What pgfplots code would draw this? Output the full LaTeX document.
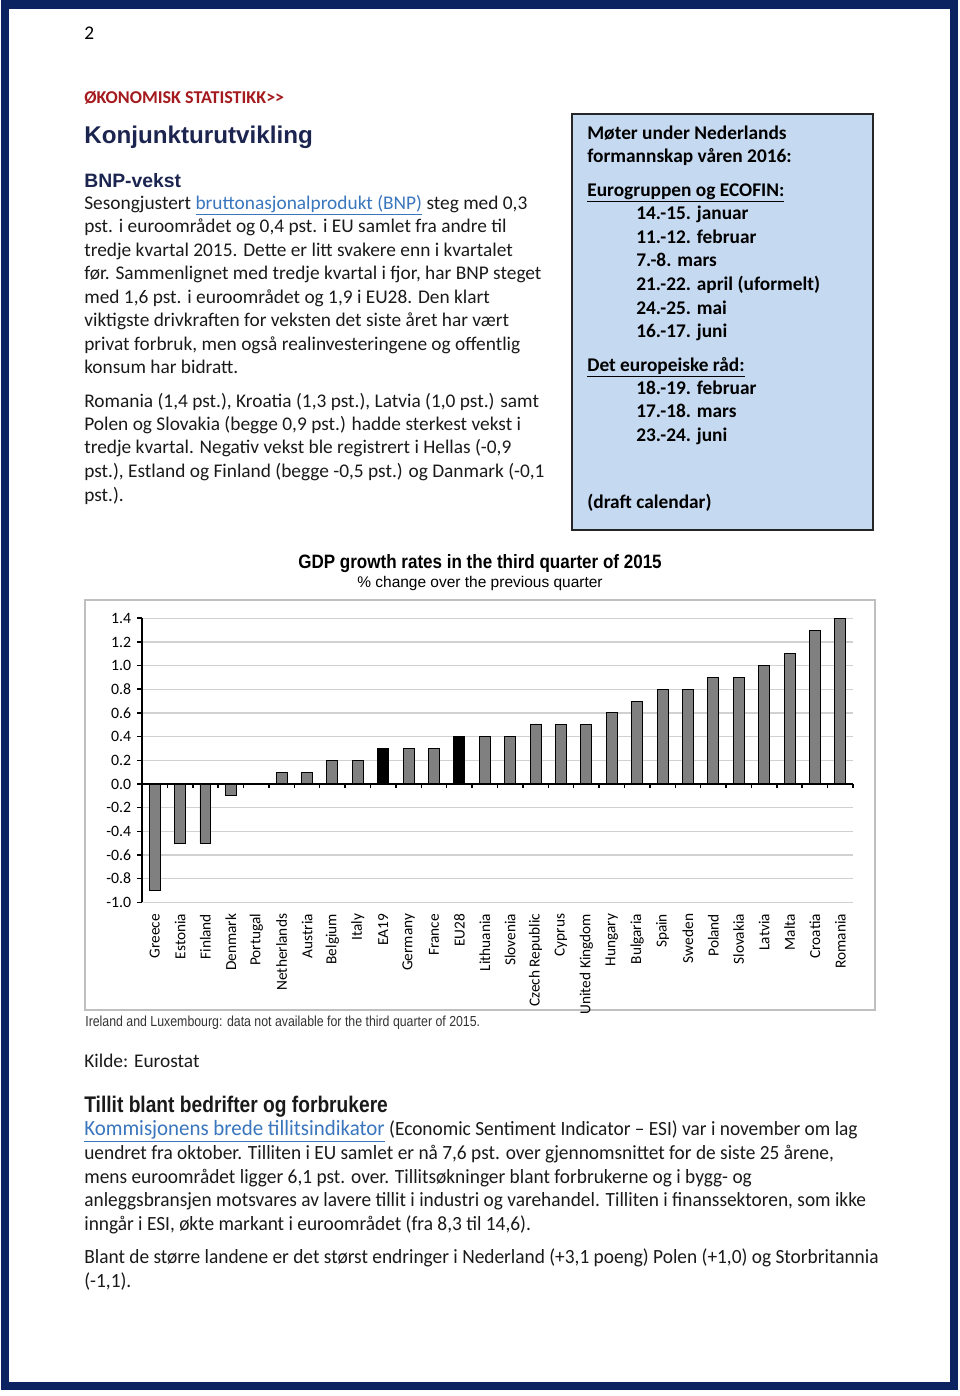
\documentclass[border=0pt]{standalone}
\usepackage{fontspec}
\setmainfont{Carlito}
\newfontfamily\arial{Liberation Sans}
\newfontfamily\arialn[FakeStretch=0.88]{Liberation Sans}
\newfontfamily\arialnn[FakeStretch=0.85]{Liberation Sans}
\newfontfamily\calc[FakeStretch=0.96]{Carlito}
\usepackage{pgfplots}
\pgfplotsset{compat=1.18}
\definecolor{navy}{HTML}{0B2461}
\definecolor{head}{HTML}{1C2550}
\definecolor{dred}{HTML}{A51A1E}
\definecolor{lnk}{HTML}{3A76BE}
\definecolor{boxfill}{HTML}{C5D9F1}
\definecolor{bargray}{HTML}{808080}
\definecolor{txt}{HTML}{1A1A1A}
\newcommand\body{\fontsize{12}{14}\selectfont}
\newcommand\T[3]{\node[anchor=base west,inner sep=0pt,text=txt,font=\body] at (#1,#2) {#3};}
\newcommand\B[3]{\node[anchor=base west,inner sep=0pt,text=black,font=\body\bfseries] at (#1,#2) {#3};}
\newcommand\C[3]{\node[anchor=base west,inner sep=0pt,text=txt,font=\fontsize{12.5}{14}\calc] at (#1,#2) {#3};}
\newcommand\lk[1]{\textcolor{lnk}{\underline{#1}}}
\begin{document}
\begin{tikzpicture}
\begin{scope}[x=0.62pt,y=-0.62pt]
\path[use as bounding box, fill=white] (0,0) rectangle (960,1396);
\draw[navy, line width=4.96pt] (5,4.5) rectangle (954,1386);
% page number and headings
\node[anchor=base west,inner sep=0pt,font=\fontsize{12}{14}\selectfont] at (84,39) {2};
\node[anchor=base west,inner sep=0pt,text=dred,font=\fontsize{11.2}{13}\selectfont\bfseries] at (84,103.5) {ØKONOMISK STATISTIKK>{}>};
\node[anchor=base west,inner sep=0pt,text=head,font=\fontsize{15}{17}\arial\bfseries] at (84,143) {Konjunkturutvikling};
\node[anchor=base west,inner sep=0pt,text=head,font=\fontsize{12}{14}\arial\bfseries] at (84,187) {BNP-vekst};
% left text
\T{84}{209}{Sesongjustert \lk{bruttonasjonalprodukt (BNP)} steg med 0,3}
\T{84}{232}{pst. i euroområdet og 0,4 pst. i EU samlet fra andre til}
\T{84}{256}{tredje kvartal 2015. Dette er litt svakere enn i kvartalet}
\T{84}{279}{før. Sammenlignet med tredje kvartal i fjor, har BNP steget}
\T{84}{303}{med 1,6 pst. i euroområdet og 1,9 i EU28. Den klart}
\T{84}{326}{viktigste drivkraften for veksten det siste året har vært}
\T{84}{350}{privat forbruk, men også realinvesteringene og offentlig}
\T{84}{373}{konsum har bidratt.}
\T{84}{407}{Romania (1,4 pst.), Kroatia (1,3 pst.), Latvia (1,0 pst.) samt}
\T{84}{430}{Polen og Slovakia (begge 0,9 pst.) hadde sterkest vekst i}
\T{84}{453}{tredje kvartal. Negativ vekst ble registrert i Hellas (-0,9}
\T{84}{477}{pst.), Estland og Finland (begge -0,5 pst.) og Danmark (-0,1}
\T{84}{501}{pst.).}
% box
\draw[fill=boxfill, draw=black!85, line width=1.2pt] (572,114) rectangle (873,530);
\B{587}{139}{Møter under Nederlands}
\B{587}{162}{formannskap våren 2016:}
\B{587}{196}{\underline{Eurogruppen og ECOFIN:}}
\B{636}{219}{14.-15. januar}
\B{636}{243}{11.-12. februar}
\B{636}{266}{7.-8. mars}
\B{636}{290}{21.-22. april (uformelt)}
\B{636}{314}{24.-25. mai}
\B{636}{337}{16.-17. juni}
\B{587}{371}{\underline{Det europeiske råd:}}
\B{636}{394}{18.-19. februar}
\B{636}{417}{17.-18. mars}
\B{636}{441}{23.-24. juni}
\B{587}{508}{(draft calendar)}
% chart frame and titles
\draw[black!25, line width=1.3pt] (85,600) rectangle (875,1010);
\node[anchor=base,inner sep=0pt,font=\fontsize{12}{14}\arialn\bfseries] at (480,568) {GDP growth rates in the third quarter of 2015};
\node[anchor=base,inner sep=0pt,font=\fontsize{9.6}{12}\arial] at (480,587) {\% change over the previous quarter};
\node[anchor=base west,inner sep=0pt,text=black!80,font=\fontsize{9}{10}\arialnn] at (85,1026) {Ireland and Luxembourg: data not available for the third quarter of 2015.};
\T{84}{1067}{Kilde: Eurostat}
\node[anchor=base west,inner sep=0pt,text=txt,font=\fontsize{14}{16}\arialnn\bfseries] at (84,1112) {Tillit blant bedrifter og forbrukere};
\C{84}{1135}{{\fontsize{13.5}{14}\selectfont\lk{Kommisjonens brede tillitsindikator}} (Economic Sentiment Indicator – ESI) var i november om lag}
\C{84}{1159}{uendret fra oktober. Tilliten i EU samlet er nå 7,6 pst. over gjennomsnittet for de siste 25 årene,}
\C{84}{1183}{mens euroområdet ligger 6,1 pst. over. Tillitsøkninger blant forbrukerne og i bygg- og}
\C{84}{1206}{anleggsbransjen motsvares av lavere tillit i industri og varehandel. Tilliten i finanssektoren, som ikke}
\C{84}{1230}{inngår i ESI, økte markant i euroområdet (fra 8,3 til 14,6).}
\C{84}{1263}{Blant de større landene er det størst endringer i Nederland (+3,1 poeng) Polen (+1,0) og Storbritannia}
\C{84}{1287}{(-1,1).}
\end{scope}
\begin{axis}[
  at={(88.04pt,-559.43pt)}, anchor=south west,
  scale only axis, width=440.8pt, height=176.1pt,
  xmin=-0.5, xmax=27.5, ymin=-1, ymax=1.4,
  axis y line*=left, axis x line*=bottom,
  x axis line style={draw=none},
  y axis line style={black, line width=1.1pt},
  xtick={0,...,27},
  xticklabels={Greece,Estonia,Finland,Denmark,Portugal,Netherlands,Austria,Belgium,Italy,EA19,Germany,France,EU28,Lithuania,Slovenia,Czech Republic,Cyprus,United Kingdom,Hungary,Bulgaria,Spain,Sweden,Poland,Slovakia,Latvia,Malta,Croatia,Romania},
  xtick style={draw=none},
  ytick={-1,-0.8,-0.6,-0.4,-0.2,0,0.2,0.4,0.6,0.8,1,1.2,1.4},
  yticklabels={-1.0,-0.8,-0.6,-0.4,-0.2,0.0,0.2,0.4,0.6,0.8,1.0,1.2,1.4},
  ytick style={black, line width=1pt},
  tick align=outside, major tick length=3pt,
  ymajorgrids, grid style={draw=black!18, line width=0.9pt},
  xticklabel style={rotate=90, anchor=east, font=\fontsize{9.5}{10}\selectfont, inner xsep=4pt, inner ysep=0pt},
  yticklabel style={font=\fontsize{9.8}{10}\selectfont, inner xsep=3.5pt},
  clip=false,
]
\addplot[ybar, bar width=6.8pt, bar shift=0pt, fill=bargray, draw=black, line width=0.6pt] coordinates {(0,-0.9) (1,-0.5) (2,-0.5) (3,-0.1) (4,0) (5,0.1) (6,0.1) (7,0.2) (8,0.2) (10,0.3) (11,0.3) (13,0.4) (14,0.4) (15,0.5) (16,0.5) (17,0.5) (18,0.6) (19,0.7) (20,0.8) (21,0.8) (22,0.9) (23,0.9) (24,1.0) (25,1.1) (26,1.3) (27,1.4)};
\addplot[ybar, bar width=6.8pt, bar shift=0pt, fill=black, draw=black, line width=0.6pt] coordinates {(9,0.3) (12,0.4)};
\addplot[black, line width=1.1pt, mark=none] coordinates {(-0.5,0) (27.5,0)};
\addplot[ycomb, black, line width=0.9pt, mark=none] coordinates {(0.5,-0.035) (1.5,-0.035) (2.5,-0.035) (3.5,-0.035) (4.5,-0.035) (5.5,-0.035) (6.5,-0.035) (7.5,-0.035) (8.5,-0.035) (9.5,-0.035) (10.5,-0.035) (11.5,-0.035) (12.5,-0.035) (13.5,-0.035) (14.5,-0.035) (15.5,-0.035) (16.5,-0.035) (17.5,-0.035) (18.5,-0.035) (19.5,-0.035) (20.5,-0.035) (21.5,-0.035) (22.5,-0.035) (23.5,-0.035) (24.5,-0.035) (25.5,-0.035) (26.5,-0.035) (27.5,-0.035)};
\end{axis}
\end{tikzpicture}
\end{document}
